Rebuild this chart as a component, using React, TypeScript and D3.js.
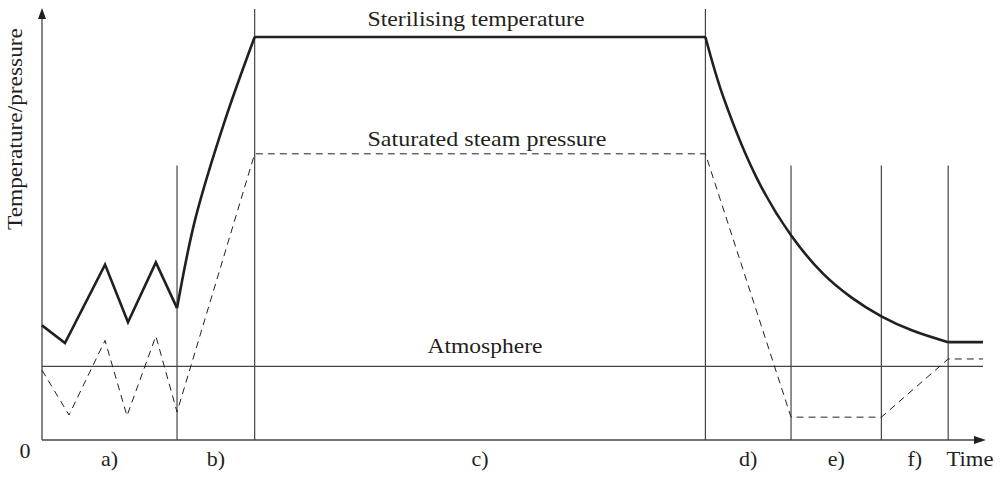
import React from 'react';
import * as d3 from 'd3';

// time (0-100) against temperature/pressure (0-100)
const zigzagTemp: [number, number][] = [
  [0, 26.6], [2.44, 22.5], [6.7, 40.7], [9.14, 27.3], [12.1, 41.2], [14.35, 30.6],
];
const riseTemp: [number, number][] = [
  [14.35, 30.6], [16.26, 51], [19.45, 74.2], [22.6, 93.5],
];
const holdTemp: [number, number][] = [[22.6, 93.5], [70.5, 93.5]];
const coolTemp: [number, number][] = [
  [70.5, 93.5], [72.4, 79.6], [76, 60.6], [79.6, 47.5], [83, 38.6],
  [86, 33.1], [89.2, 28.7], [92.5, 25.4], [96.3, 22.7],
];
const endTemp: [number, number][] = [[96.3, 22.7], [100, 22.7]];

const pressure: [number, number][] = [
  [0, 16.2], [2.87, 5.8], [6.7, 23.1], [9.03, 5.6], [12.1, 24.1], [14.35, 6.5],
  [22.6, 66.4], [70.5, 66.4], [79.6, 5.3], [89.2, 5.3], [96.3, 18.8], [100, 18.8],
];

const atmosphere = 17.1;
const phaseBounds = [14.35, 22.6, 70.5, 79.6, 89.2, 96.3];
const phaseTops = [63.7, 100, 100, 63.7, 63.7, 63.7];
const phaseNames = ['a)', 'b)', 'c)', 'd)', 'e)', 'f)'];

const W = 1002;
const H = 479;
const font = '"Liberation Serif", "DejaVu Serif", serif';
const ink = '#231f20';

const App = () => {
  const x = d3.scaleLinear().domain([0, 100]).range([42, 983]);
  const y = d3.scaleLinear().domain([0, 100]).range([440, 9]);

  const straight = d3.line<[number, number]>().x(d => x(d[0])).y(d => y(d[1]));
  const smooth = d3.line<[number, number]>().x(d => x(d[0])).y(d => y(d[1])).curve(d3.curveCatmullRom.alpha(0.5));

  const starts = [0, ...phaseBounds];
  const labelX = phaseNames.map((_, i) => (starts[i] + phaseBounds[i]) / 2);

  const x0 = x(0);
  const y0 = y(0);
  const xEnd = x(100);

  return (
    <svg width={W} height={H} style={{ position: 'absolute', left: 0, top: 0, background: '#fff' }}>
      {/* phase boundaries */}
      {phaseBounds.map((b, i) => (
        <line key={i} x1={x(b)} x2={x(b)} y1={y0} y2={y(phaseTops[i])} stroke="#444" strokeWidth={1.2} />
      ))}

      {/* atmosphere */}
      <line x1={x0} x2={xEnd} y1={y(atmosphere)} y2={y(atmosphere)} stroke="#444" strokeWidth={1.2} />

      {/* axes */}
      <line x1={x0} x2={x0} y1={y0} y2={y(100) + 4} stroke="#444" strokeWidth={1.3} />
      <line x1={x0} x2={xEnd} y1={y0} y2={y0} stroke="#444" strokeWidth={1.3} />
      <path d={`M${x0},${y(100) - 1} L${x0 - 4},${y(100) + 10} L${x0 + 4},${y(100) + 10} Z`} fill={ink} />
      <path d={`M${xEnd + 3},${y0} L${xEnd - 9},${y0 - 4} L${xEnd - 9},${y0 + 4} Z`} fill={ink} />

      {/* saturated steam pressure */}
      <path d={straight(pressure) ?? ''} fill="none" stroke={ink} strokeWidth={1} strokeDasharray="7,5" />

      {/* sterilising temperature */}
      <g fill="none" stroke={ink} strokeWidth={2.6} strokeLinejoin="miter" strokeLinecap="butt">
        <path d={straight(zigzagTemp) ?? ''} />
        <path d={smooth(riseTemp) ?? ''} />
        <path d={straight(holdTemp) ?? ''} />
        <path d={smooth(coolTemp) ?? ''} />
        <path d={straight(endTemp) ?? ''} />
      </g>

      <g fontFamily={font} fill={ink} fontSize={22} textAnchor="middle">
        <text x={476} y={y(93.5) - 11} textLength={217} lengthAdjust="spacingAndGlyphs">Sterilising temperature</text>
        <text x={487} y={y(66.4) - 8} textLength={239} lengthAdjust="spacingAndGlyphs">Saturated steam pressure</text>
        <text x={485} y={y(atmosphere) - 13} textLength={115} lengthAdjust="spacingAndGlyphs">Atmosphere</text>
        <text x={25} y={458}>0</text>
        {phaseNames.map((n, i) => (
          <text key={n} x={x(labelX[i])} y={466}>{n}</text>
        ))}
        <text x={970} y={466} textLength={47} lengthAdjust="spacingAndGlyphs">Time</text>
        <text transform={`translate(22,129) rotate(-90)`} textLength={202} lengthAdjust="spacingAndGlyphs">Temperature/pressure</text>
      </g>
    </svg>
  );
};

export default App;
